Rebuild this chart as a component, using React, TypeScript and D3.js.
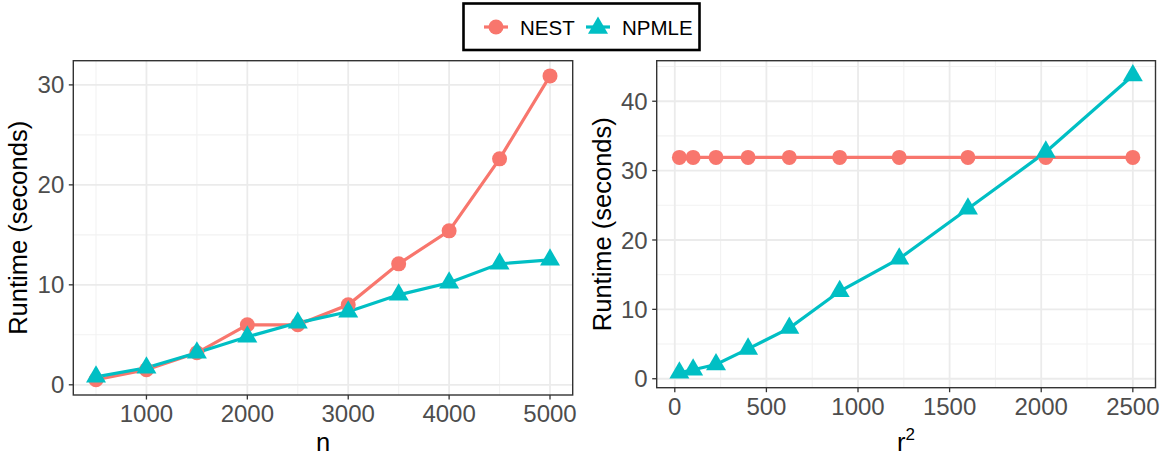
import React from "react";
import * as d3 from "d3";

const nValues = [500, 1000, 1500, 2000, 2500, 3000, 3500, 4000, 4500, 5000];
const nestByN = [0.5, 1.5, 3.2, 6.0, 6.0, 8.0, 12.1, 15.4, 22.6, 30.9];
const npmleByN = [0.8, 1.7, 3.2, 4.8, 6.2, 7.3, 9.0, 10.2, 12.1, 12.5];

const r2Values = [25, 100, 225, 400, 625, 900, 1225, 1600, 2025, 2500];
const nestByR2 = [31.9, 31.9, 31.9, 31.9, 31.9, 31.9, 31.9, 31.9, 31.9, 31.9];
const npmleByR2 = [0.85, 1.3, 2.05, 4.3, 7.3, 12.6, 17.3, 24.5, 32.7, 43.7];

const leftXTicks = [1000, 2000, 3000, 4000, 5000];
const leftXMinor = [500, 1500, 2500, 3500, 4500];
const leftYTicks = [0, 10, 20, 30];
const leftYMinor = [5, 15, 25];
const rightXTicks = [0, 500, 1000, 1500, 2000, 2500];
const rightXMinor = [250, 750, 1250, 1750, 2250];
const rightYTicks = [0, 10, 20, 30, 40];
const rightYMinor = [5, 15, 25, 35, 45];

const seriesNames = ["NEST", "NPMLE"];
const colors = ["#F8766D", "#00BFC4"];

const FONT = "'Liberation Sans', Arial, Helvetica, sans-serif";

function expandDomain(vals: number[]): [number, number] {
  const lo = d3.min(vals)!;
  const hi = d3.max(vals)!;
  const pad = (hi - lo) * 0.05;
  return [lo - pad, hi + pad];
}

function Triangle({ x, y, color, s = 10 }: { x: number; y: number; color: string; s?: number }) {
  const h = s * Math.sqrt(3);
  const pts = [
    [x, y - (h * 2) / 3],
    [x - s, y + h / 3],
    [x + s, y + h / 3],
  ];
  return <polygon points={pts.map((p) => p.join(",")).join(" ")} fill={color} />;
}

type PanelProps = {
  left: number;
  top: number;
  right: number;
  bottom: number;
  xs: number[];
  a: number[];
  b: number[];
  xTicks: number[];
  xMinor: number[];
  yTicks: number[];
  yMinor: number[];
  xTitle: React.ReactNode;
  yTitleX: number;
};

function Panel(p: PanelProps) {
  const x = d3.scaleLinear().domain(expandDomain(p.xs)).range([p.left, p.right]);
  const y = d3.scaleLinear().domain(expandDomain([...p.a, ...p.b])).range([p.bottom, p.top]);
  const line = d3
    .line<number>()
    .x((_, i) => x(p.xs[i]))
    .y((d) => y(d));
  const inX = (v: number) => x(v) >= p.left && x(v) <= p.right;
  const inY = (v: number) => y(v) >= p.top && y(v) <= p.bottom;
  return (
    <g>
      <rect x={p.left} y={p.top} width={p.right - p.left} height={p.bottom - p.top} fill="white" />
      {p.xMinor.filter(inX).map((v) => (
        <line key={"xm" + v} x1={x(v)} x2={x(v)} y1={p.top} y2={p.bottom} stroke="#F2F2F2" strokeWidth={1.1} />
      ))}
      {p.yMinor.filter(inY).map((v) => (
        <line key={"ym" + v} y1={y(v)} y2={y(v)} x1={p.left} x2={p.right} stroke="#F2F2F2" strokeWidth={1.1} />
      ))}
      {p.xTicks.map((v) => (
        <line key={"xg" + v} x1={x(v)} x2={x(v)} y1={p.top} y2={p.bottom} stroke="#EBEBEB" strokeWidth={1.8} />
      ))}
      {p.yTicks.map((v) => (
        <line key={"yg" + v} y1={y(v)} y2={y(v)} x1={p.left} x2={p.right} stroke="#EBEBEB" strokeWidth={1.8} />
      ))}
      <path d={line(p.a)!} fill="none" stroke={colors[0]} strokeWidth={3.2} />
      <path d={line(p.b)!} fill="none" stroke={colors[1]} strokeWidth={3.2} />
      {p.a.map((v, i) => (
        <circle key={"c" + i} cx={x(p.xs[i])} cy={y(v)} r={7.5} fill={colors[0]} />
      ))}
      {p.b.map((v, i) => (
        <Triangle key={"t" + i} x={x(p.xs[i])} y={y(v)} color={colors[1]} />
      ))}
      <rect x={p.left} y={p.top} width={p.right - p.left} height={p.bottom - p.top} fill="none" stroke="#333333" strokeWidth={1.4} />
      {p.xTicks.map((v) => (
        <g key={"xt" + v}>
          <line x1={x(v)} x2={x(v)} y1={p.bottom} y2={p.bottom + 4.5} stroke="#333333" strokeWidth={1.3} />
          <text x={x(v)} y={p.bottom + 27} textAnchor="middle" fontSize={24} fill="#4D4D4D" fontFamily={FONT}>
            {v}
          </text>
        </g>
      ))}
      {p.yTicks.map((v) => (
        <g key={"yt" + v}>
          <line x1={p.left - 4.5} x2={p.left} y1={y(v)} y2={y(v)} stroke="#333333" strokeWidth={1.3} />
          <text x={p.left - 9} y={y(v) + 8.6} textAnchor="end" fontSize={24} fill="#4D4D4D" fontFamily={FONT}>
            {v}
          </text>
        </g>
      ))}
      <text x={(p.left + p.right) / 2} y={451} textAnchor="middle" fontSize={25.5} fill="black" fontFamily={FONT}>
        {p.xTitle}
      </text>
      <text
        transform={`translate(${p.yTitleX},${(p.top + p.bottom) / 2}) rotate(-90)`}
        textAnchor="middle"
        fontSize={25.5}
        fill="black"
        fontFamily={FONT}
      >
        Runtime (seconds)
      </text>
    </g>
  );
}

export default function App() {
  return (
    <div style={{ position: "absolute", left: 0, top: 0 }}>
      <svg width={1167} height={458} style={{ display: "block", background: "white" }}>
        <rect width={1167} height={458} fill="white" />
        {/* legend */}
        <rect x={463.5} y={3.5} width={236} height={46.5} fill="white" stroke="black" strokeWidth={2.6} />
        <line x1={484} x2={508} y1={27} y2={27} stroke={colors[0]} strokeWidth={3.2} />
        <circle cx={496} cy={27} r={7.5} fill={colors[0]} />
        <text x={520} y={34.5} fontSize={20.5} fontFamily={FONT} fill="black">
          {seriesNames[0]}
        </text>
        <line x1={586} x2={610} y1={27} y2={27} stroke={colors[1]} strokeWidth={3.2} />
        <Triangle x={598} y={28} color={colors[1]} />
        <text x={622} y={34.5} fontSize={20.5} fontFamily={FONT} fill="black">
          {seriesNames[1]}
        </text>
        <Panel
          left={73.3}
          top={60.7}
          right={572.7}
          bottom={395}
          xs={nValues}
          a={nestByN}
          b={npmleByN}
          xTicks={leftXTicks}
          xMinor={leftXMinor}
          yTicks={leftYTicks}
          yMinor={leftYMinor}
          xTitle="n"
          yTitleX={27}
        />
        <Panel
          left={656.7}
          top={60.7}
          right={1155.5}
          bottom={387.7}
          xs={r2Values}
          a={nestByR2}
          b={npmleByR2}
          xTicks={rightXTicks}
          xMinor={rightXMinor}
          yTicks={rightYTicks}
          yMinor={rightYMinor}
          xTitle={
            <>
              r<tspan dy={-11} fontSize={17}>2</tspan>
            </>
          }
          yTitleX={611}
        />
      </svg>
    </div>
  );
}
